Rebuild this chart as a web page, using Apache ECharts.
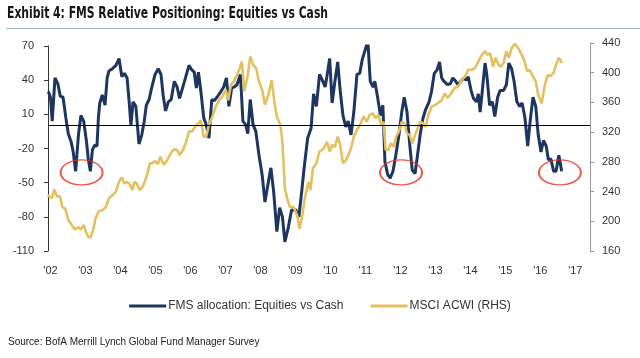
<!DOCTYPE html>
<html>
<head>
<meta charset="utf-8">
<script src="https://cdn.jsdelivr.net/npm/echarts@6/dist/echarts.min.js"></script>
<style>
  html, body { margin: 0; padding: 0; background: #fff; }
  #chart { width: 640px; height: 358px; }
</style>
</head>
<body>
<div id="chart"></div>
<script>
// ---- Data ----
const chartTitle = 'Exhibit 4: FMS Relative Positioning: Equities vs Cash';
const sourceText = 'Source: BofA Merrill Lynch Global Fund Manager Survey';
const fmsName = 'FMS allocation: Equities vs Cash';
const acwiName = 'MSCI ACWI (RHS)';

const yearTicks = [2002, 2003, 2004, 2005, 2006, 2007, 2008, 2009, 2010, 2011, 2012, 2013, 2014, 2015, 2016, 2017];

// FMS net % equities vs cash (left axis), x in decimal years
const fmsYears = [
  2001.94,2002.00,2002.05,2002.13,2002.21,2002.28,2002.36,2002.44,2002.51,2002.59,
  2002.65,2002.72,2002.80,2002.87,2002.95,2003.03,2003.08,2003.14,2003.20,2003.27,
  2003.33,2003.37,2003.41,2003.48,2003.56,2003.62,2003.67,2003.77,2003.87,2003.96,
  2004.04,2004.11,2004.19,2004.25,2004.30,2004.36,2004.44,2004.53,2004.61,2004.68,
  2004.74,2004.82,2004.89,2004.99,2005.08,2005.16,2005.22,2005.29,2005.37,2005.45,
  2005.54,2005.62,2005.69,
  2005.83,2005.96,2006.04,2006.11,2006.17,2006.23,2006.30,2006.38,2006.45,2006.53,
  2006.61,2006.68,2006.76,2006.85,2006.95,2007.03,2007.10,2007.18,2007.25,2007.33,
  2007.43,2007.50,2007.58,2007.64,2007.71,2007.79,2007.87,2007.96,2008.05,2008.13,
  2008.23,2008.30,2008.38,2008.47,2008.55,2008.63,2008.70,2008.80,2008.89,2009.01,
  2009.10,2009.18,2009.25,2009.35,2009.45,2009.52,2009.60,2009.69,2009.77,2009.85,
  2009.90,2009.98,2010.05,2010.13,2010.21,2010.28,2010.36,2010.44,2010.51,2010.59,
  2010.67,2010.76,2010.84,2010.91,2010.99,2011.07,2011.14,2011.22,2011.27,2011.35,
  2011.43,2011.50,2011.56,2011.64,2011.71,2011.79,2011.87,2011.96,2012.04,2012.11,
  2012.19,2012.27,2012.34,2012.42,2012.49,2012.57,2012.65,2012.72,2012.82,2012.89,
  2012.97,2013.05,2013.12,2013.18,2013.25,2013.35,2013.43,2013.50,2013.58,2013.65,
  2013.73,2013.81,2013.88,2013.94,2014.02,2014.09,2014.17,2014.23,2014.28,2014.34,
  2014.42,2014.47,2014.55,2014.63,2014.70,2014.78,2014.85,2014.95,2015.03,2015.10,
  2015.18,2015.25,2015.33,2015.41,2015.48,2015.56,2015.64,2015.71,2015.79,2015.87,
  2015.94,2016.02,2016.09,2016.17,2016.23,2016.30,2016.38,2016.45,2016.53,2016.61
];
const fmsValues = [
  30,25,4,42,37,26,25,7,-7,-14,
  -23,-40,-8,9,4,-14,-29,-40,-21,-17,
  -18,7,20,27,18,42,48,50,53,59,
  43,46,42,21,0,21,17,-16,-8,4,
  18,23,33,45,50,45,27,13,21,23,
  39,34,24,
  39,53,49,47,33,47,30,7,1,-11,
  23,22,25,29,34,42,17,33,34,36,
  45,4,1,-7,23,1,-5,-26,-43,-67,
  -49,-37,-58,-93,-72,-80,-102,-89,-74,-74,
  -80,-58,-37,-11,-2,28,17,45,40,34,
  43,59,20,39,56,31,9,-1,4,-8,
  12,45,46,58,66,75,39,34,39,25,
  9,18,-32,-43,-46,-40,-26,-8,12,25,
  12,-17,-39,-42,-26,-7,7,14,21,30,
  46,49,56,42,39,36,37,42,39,36,
  39,42,40,43,31,24,21,28,12,30,
  55,45,18,21,8,25,31,31,36,55,
  50,39,21,17,20,7,-18,4,25,17,
  -8,-23,-13,-18,-30,-29,-40,-40,-26,-40
];

// MSCI ACWI index level (right axis)
const acwiYears = [
  2001.92,2002.04,2002.11,2002.19,2002.27,2002.34,2002.42,2002.51,2002.61,2002.70,
  2002.80,2002.87,2002.95,2003.01,2003.08,2003.14,2003.22,2003.29,2003.37,2003.48,
  2003.58,2003.67,2003.77,2003.87,2003.96,2004.04,2004.11,2004.19,2004.27,2004.34,
  2004.40,2004.47,2004.55,2004.63,2004.70,2004.76,2004.84,2004.91,2004.99,2005.07,
  2005.14,2005.24,2005.31,2005.39,2005.47,2005.54,2005.62,2005.69,2005.79,2005.88,
  2005.96,2006.04,2006.13,2006.23,2006.30,2006.38,2006.45,2006.53,2006.63,2006.72,
  2006.82,2006.91,2007.01,2007.08,2007.16,2007.24,2007.33,2007.41,2007.47,2007.54,
  2007.64,2007.71,2007.79,2007.88,2007.96,2008.05,2008.13,2008.23,2008.32,2008.40,
  2008.47,2008.57,2008.63,2008.70,2008.78,2008.85,2008.95,2009.05,2009.12,2009.20,
  2009.27,2009.37,2009.43,2009.50,2009.60,2009.69,2009.81,2009.90,2009.98,2010.05,
  2010.13,2010.21,2010.28,2010.36,2010.44,2010.51,2010.59,2010.67,2010.76,2010.85,
  2010.95,2011.04,2011.12,2011.22,2011.29,2011.37,2011.45,2011.52,2011.58,2011.65,
  2011.73,2011.81,2011.88,2011.96,2012.04,2012.11,2012.19,2012.27,2012.34,2012.42,
  2012.49,2012.57,2012.65,2012.72,2012.80,2012.89,2013.01,2013.18,2013.27,2013.35,
  2013.45,2013.54,2013.65,2013.75,2013.85,2013.94,2014.04,2014.13,2014.23,2014.33,
  2014.42,2014.49,2014.57,2014.65,2014.72,2014.80,2014.87,2014.95,2015.03,2015.10,
  2015.18,2015.27,2015.37,2015.47,2015.54,2015.62,2015.69,2015.79,2015.87,2015.94,
  2016.04,2016.13,2016.21,2016.28,2016.38,2016.45,2016.53,2016.62
];
const acwiValues = [
  235,231,243,233,234,219,217,202,195,189,
  192,189,195,186,179,178,188,204,213,215,
  219,231,235,240,253,259,251,253,250,242,
  253,251,242,246,254,262,278,278,281,277,
  287,276,280,287,294,297,296,289,296,307,
  321,321,327,332,336,314,314,330,341,354,
  363,368,377,363,384,388,397,406,415,375,
  397,422,411,406,388,377,357,370,390,361,
  341,330,307,244,228,219,219,208,190,208,
  231,253,242,271,278,294,298,307,294,303,
  300,314,303,278,282,289,298,314,323,330,
  341,334,343,345,339,343,330,334,296,296,
  305,300,314,321,334,332,318,316,305,316,
  325,334,332,327,343,354,357,363,372,366,
  372,379,381,390,395,404,404,406,415,424,
  429,424,426,408,420,411,408,413,429,420,
  433,439,433,424,417,402,404,395,388,370,
  359,384,397,395,400,411,420,413
];

// Red ellipse annotations around FMS lows
const highlightYears = [2002.89, 2012.02, 2016.56];
const highlightLevel = -41;

// ---- Chart ----
const X_MIN = 2001.93, X_MAX = 2017.42;
const navy = '#1d3660';
const gold = '#e4c160';
const labelFont = "'Liberation Sans', Arial, sans-serif";
const titleFont = "bold 15px 'Liberation Sans Narrow', 'DejaVu Sans Condensed', 'Liberation Sans', sans-serif";

// Fit the condensed title to the width it occupies in the reference
const TITLE_TARGET_WIDTH = 321;
const measureCtx = document.createElement('canvas').getContext('2d');
measureCtx.font = titleFont;
const titleScaleX = Math.min(1, TITLE_TARGET_WIDTH / measureCtx.measureText(chartTitle).width);

const chart = echarts.init(document.getElementById('chart'), null, { renderer: 'canvas' });

const fmsData = fmsYears.map((x, i) => [x, fmsValues[i]]);
const acwiData = acwiYears.map((x, i) => [x, acwiValues[i]]);
const highlightData = highlightYears.map(x => [x, highlightLevel]);

const option = {
  animation: false,
  backgroundColor: '#fff',
  title: [
    {
      text: sourceText, left: 8, top: 337, padding: 0,
      textStyle: { fontFamily: labelFont, fontSize: 10, fontWeight: 'normal', color: '#222' }
    }
  ],
  graphic: [
    {
      type: 'text', x: 7, y: 14, scaleX: titleScaleX, silent: true,
      style: { text: chartTitle, font: titleFont, fill: '#161616', textVerticalAlign: 'middle', verticalAlign: 'middle' }
    },
    { type: 'line', shape: { x1: 6, y1: 28.5, x2: 640, y2: 28.5 }, style: { stroke: '#9fb0c8', lineWidth: 1 }, silent: true }
  ],
  legend: {
    data: [fmsName, acwiName],
    left: 'center', top: 295,
    icon: 'rect', itemWidth: 37, itemHeight: 3, itemGap: 27,
    textStyle: { fontFamily: labelFont, fontSize: 12, color: '#333', padding: [0, 0, 0, -3] },
    selectedMode: false
  },
  grid: [
    { left: 48, right: 50, top: 46, height: 205 },
    { left: 48, right: 50, top: 43, height: 208 }
  ],
  xAxis: [
    {
      gridIndex: 0, type: 'value', min: X_MIN, max: X_MAX,
      axisLine: { show: false }, axisTick: { show: false }, splitLine: { show: false },
      axisLabel: {
        customValues: yearTicks, margin: 14, fontSize: 11, fontFamily: labelFont, color: '#333',
        formatter: v => "'" + String(Math.round(v)).slice(2)
      }
    },
    {
      gridIndex: 1, type: 'value', min: X_MIN, max: X_MAX, show: false,
      splitLine: { show: false }
    }
  ],
  yAxis: [
    {
      gridIndex: 0, type: 'value', min: -110, max: 70, interval: 30,
      axisLine: { show: true, lineStyle: { color: '#333', width: 1 } },
      axisTick: { show: true, length: 4, lineStyle: { color: '#333' } },
      splitLine: { show: false },
      axisLabel: { margin: 14, fontSize: 11, fontFamily: labelFont, color: '#333' }
    },
    {
      gridIndex: 1, type: 'value', position: 'right', min: 160, max: 440, interval: 40,
      axisLine: { show: true, lineStyle: { color: '#999', width: 1 } },
      axisTick: { show: true, length: 4, lineStyle: { color: '#999' } },
      splitLine: { show: false },
      axisLabel: { margin: 12, fontSize: 11, fontFamily: labelFont, color: '#333' }
    }
  ],
  series: [
    {
      name: fmsName, type: 'line', xAxisIndex: 0, yAxisIndex: 0,
      data: fmsData, showSymbol: false, symbol: 'none',
      lineStyle: { color: navy, width: 3 }, itemStyle: { color: navy },
      z: 2,
      markLine: {
        silent: true, symbol: 'none', animation: false,
        label: { show: false },
        lineStyle: { color: '#000', width: 1.2, type: 'solid' },
        data: [{ yAxis: 0 }]
      }
    },
    {
      name: acwiName, type: 'line', xAxisIndex: 1, yAxisIndex: 1,
      data: acwiData, showSymbol: false, symbol: 'none',
      lineStyle: { color: gold, width: 2.6 }, itemStyle: { color: gold },
      z: 3
    },
    {
      name: 'highlight', type: 'scatter', xAxisIndex: 0, yAxisIndex: 0,
      data: highlightData, silent: true,
      symbol: 'path://M0,50 A50,50 0 1,1 100,50 A50,50 0 1,1 0,50 Z',
      symbolSize: [42, 25],
      itemStyle: { color: 'rgba(0,0,0,0)', borderColor: '#e8301c', borderWidth: 1.6 },
      z: 5
    }
  ]
};

chart.setOption(option);
</script>
</body>
</html>
